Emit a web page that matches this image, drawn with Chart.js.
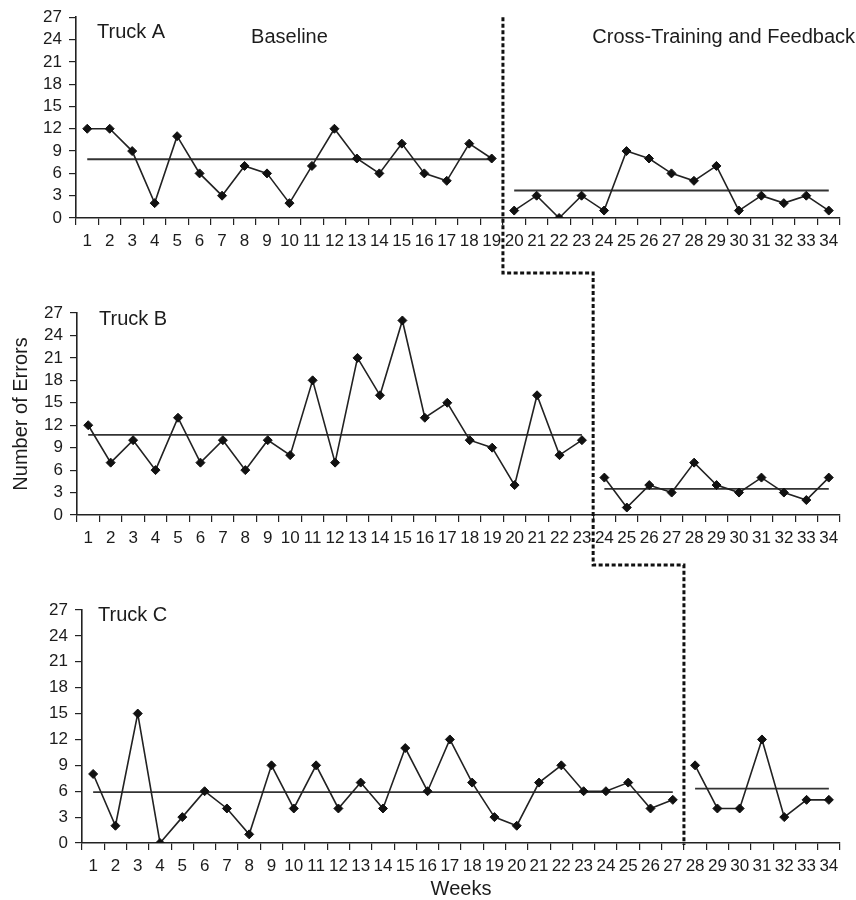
<!DOCTYPE html>
<html>
<head>
<meta charset="utf-8">
<style>
  html, body { margin: 0; padding: 0; background: #fff; }
  #wrap { position: relative; width: 856px; height: 900px; overflow: hidden; }
  #wrap canvas { position: absolute; left: 0; }
</style>
</head>
<body>
<script src="https://cdn.jsdelivr.net/npm/chart.js@4.4.1/dist/chart.umd.min.js"></script>
<div id="wrap">
  <canvas id="truckA" width="856" height="262" style="top:0"></canvas>
  <canvas id="truckB" width="856" height="300" style="top:262px"></canvas>
  <canvas id="truckC" width="856" height="338" style="top:562px"></canvas>
  <canvas id="phase" width="856" height="900" style="top:0"></canvas>
</div>
<script>
// weeks on the x axis
const weeks = Array.from({length: 34}, (_, i) => String(i + 1));
const yTicks = [0, 3, 6, 9, 12, 15, 18, 21, 24, 27];
const phaseNames = ['Baseline', 'Cross-Training and Feedback'];

// Truck A: baseline weeks 1-19, intervention weeks 20-34
const truckAStart = 20;
const truckABaseline = [12, 12, 9, 2, 11, 6, 3, 7, 6, 2, 7, 12, 8, 6, 10, 6, 5, 10, 8];
const truckAIntervention = [1, 3, 0, 3, 1, 9, 8, 6, 5, 7, 1, 3, 2, 3, 1];
const truckAMeans = [7.9, 3.7];

// Truck B: baseline weeks 1-23, intervention weeks 24-34
const truckBStart = 24;
const truckBBaseline = [12, 7, 10, 6, 13, 7, 10, 6, 10, 8, 18, 7, 21, 16, 26, 13, 15, 10, 9, 4, 16, 8, 10];
const truckBIntervention = [5, 1, 4, 3, 7, 4, 3, 5, 3, 2, 5];
const truckBMeans = [10.7, 3.5];

// Truck C: baseline weeks 1-27, intervention weeks 28-34
const truckCStart = 28;
const truckCBaseline = [8, 2, 15, 0, 3, 6, 4, 1, 9, 4, 9, 4, 7, 4, 11, 6, 12, 7, 3, 2, 7, 9, 6, 6, 7, 4, 5];
const truckCIntervention = [9, 4, 4, 12, 3, 5, 5];
const truckCMeans = [5.9, 6.3];

const FONT = '"Liberation Sans", Arial, sans-serif';
const INK = '#1c1c1c';

const panelText = {
  id: 'panelText',
  afterDraw(chart, args, opts) {
    const {ctx, chartArea} = chart;
    ctx.save();
    ctx.fillStyle = INK;
    ctx.font = '20px ' + FONT;
    ctx.textBaseline = 'middle';
    ctx.textAlign = 'left';
    ctx.fillText(opts.truck, chartArea.left + opts.dx, chartArea.top + opts.dy);
    if (opts.phases) {
      const split = splitX(chart, opts.start);
      ctx.textAlign = 'center';
      ctx.fillText(opts.phases[0], (chartArea.left + split) / 2, chartArea.top + 20);
      ctx.textAlign = 'right';
      ctx.fillText(opts.phases[1], chart.width - 1, chartArea.top + 20);
    }
    ctx.restore();
  }
};

function splitX(chart, start) {
  const x = chart.scales.x;
  return (x.getPixelForValue(start - 2) + x.getPixelForValue(start - 1)) / 2;
}

function series(base, inter, start) {
  return {
    base: weeks.map((w, i) => i < start - 1 ? base[i] : null),
    inter: weeks.map((w, i) => i >= start - 1 ? inter[i - start + 1] : null)
  };
}

function meanLine(val, from, to) {
  return weeks.map((w, i) => (i >= from && i <= to) ? val : null);
}

function makeChart(id, base, inter, start, means, opt) {
  const s = series(base, inter, start);
  const dataStyle = {
    borderColor: '#222', borderWidth: 1.6, pointStyle: 'rectRot', pointRadius: 4.5,
    pointBackgroundColor: '#111', pointBorderColor: '#111', pointBorderWidth: 1,
    tension: 0, spanGaps: false, fill: false
  };
  const meanStyle = { borderColor: '#333', borderWidth: 1.8, pointRadius: 0, fill: false };
  return new Chart(document.getElementById(id), {
    type: 'line',
    data: {
      labels: weeks,
      datasets: [
        Object.assign({ data: s.base }, dataStyle),
        Object.assign({ data: s.inter }, dataStyle),
        Object.assign({ data: meanLine(means[0], 0, start - 2) }, meanStyle),
        Object.assign({ data: meanLine(means[1], start - 1, weeks.length - 1) }, meanStyle)
      ]
    },
    options: {
      responsive: false,
      animation: false,
      devicePixelRatio: 1,
      events: [],
      layout: { padding: { top: opt.padTop, bottom: opt.padBottom, left: 0, right: 16 } },
      plugins: {
        legend: { display: false },
        tooltip: { enabled: false },
        panelText: { truck: opt.truck, dx: opt.dx, dy: opt.dy, phases: opt.phases, start: start }
      },
      scales: {
        x: {
          type: 'category',
          offset: true,
          grid: { offset: true, drawOnChartArea: false, tickLength: 7, color: '#222', lineWidth: 1.2 },
          border: { color: '#222', width: 1.6 },
          ticks: { autoSkip: false, maxRotation: 0, minRotation: 0, padding: 6, color: INK,
                   font: { family: FONT, size: 17 } },
          title: opt.xTitle ? { display: true, text: opt.xTitle, color: INK,
                   font: { family: FONT, size: 20, lineHeight: 1 }, padding: { top: 0, bottom: 0 } }
                 : { display: false },
          afterFit(scale) { scale.height = opt.xHeight; }
        },
        y: {
          min: 0, max: 27,
          afterBuildTicks(scale) { scale.ticks = yTicks.map(v => ({ value: v })); },
          grid: { drawOnChartArea: false, tickLength: 7, color: '#222', lineWidth: 1.2 },
          border: { color: '#222', width: 1.6 },
          ticks: { autoSkip: false, padding: 7, color: INK, font: { family: FONT, size: 17 } },
          title: opt.yTitle ? { display: true, text: opt.yTitle, color: INK,
                   font: { family: FONT, size: 20 }, padding: { top: 9, bottom: 0 } }
                 : { display: false },
          afterFit(scale) { scale.width = opt.yWidth; }
        }
      }
    },
    plugins: [panelText]
  });
}

const chartA = makeChart('truckA', truckABaseline, truckAIntervention, truckAStart, truckAMeans,
  { truck: 'Truck A', dx: 21, dy: 15, phases: phaseNames, padTop: 17, padBottom: 4, xHeight: 40, yWidth: 76 });
const chartB = makeChart('truckB', truckBBaseline, truckBIntervention, truckBStart, truckBMeans,
  { truck: 'Truck B', dx: 22, dy: 6, padTop: 51, padBottom: 7, xHeight: 40, yWidth: 77, yTitle: 'Number of Errors' });
const chartC = makeChart('truckC', truckCBaseline, truckCIntervention, truckCStart, truckCMeans,
  { truck: 'Truck C', dx: 16, dy: 5, padTop: 48, padBottom: 1, xHeight: 56, yWidth: 82, xTitle: 'Weeks' });

// dashed phase-change line running through the three panels
function drawPhaseLine() {
  const ctx = document.getElementById('phase').getContext('2d');
  const off = c => c.canvas.offsetTop;
  const xA = splitX(chartA, truckAStart);
  const xB = splitX(chartB, truckBStart);
  const xC = splitX(chartC, truckCStart);
  const y0 = off(chartA) + chartA.chartArea.top;
  const yAB = off(chartB) + chartB.chartArea.top - 40;
  const yBC = off(chartC) + chartC.chartArea.top - 45;
  const yEnd = off(chartC) + chartC.chartArea.bottom + 2;
  ctx.clearRect(0, 0, 856, 900);
  ctx.save();
  ctx.strokeStyle = '#111';
  ctx.lineWidth = 3;
  ctx.setLineDash([4, 2.5]);
  ctx.beginPath();
  ctx.moveTo(xA, y0);
  ctx.lineTo(xA, yAB);
  ctx.lineTo(xB, yAB);
  ctx.lineTo(xB, yBC);
  ctx.lineTo(xC, yBC);
  ctx.lineTo(xC, yEnd);
  ctx.stroke();
  ctx.restore();
}
drawPhaseLine();
</script>
</body>
</html>
